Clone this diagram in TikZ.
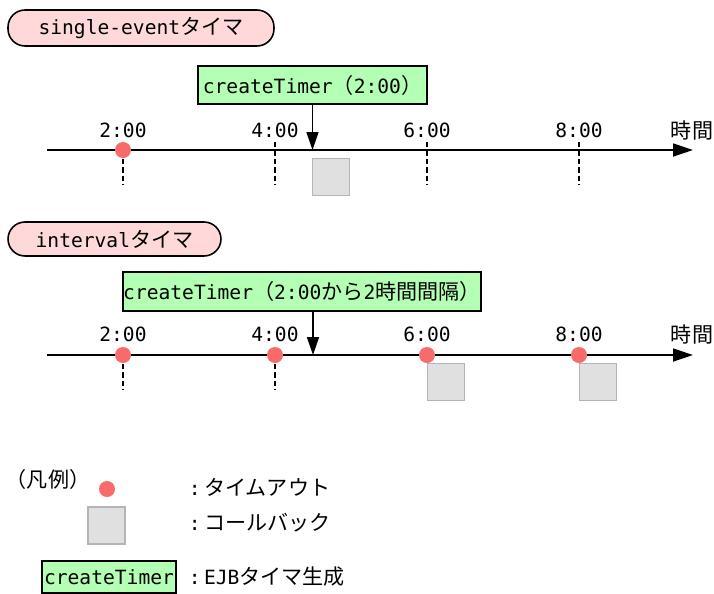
\documentclass[tikz,border=0pt]{standalone}
\usepackage{fontspec}
\setmainfont[Scale=0.93]{DejaVu Sans Mono}
\newfontfamily\jp{Noto Sans CJK JP}
\usetikzlibrary{arrows.meta,positioning}
\definecolor{pillpink}{HTML}{FFD9D9}
\definecolor{timergreen}{HTML}{B3FFB3}
\definecolor{dotred}{HTML}{F76B6B}
\definecolor{cbfill}{HTML}{E0E0E0}
\definecolor{cbdraw}{HTML}{B5B5B5}

\begin{document}
\begin{tikzpicture}[
  x=0.02cm, y=-0.02cm,
  font=\fontsize{12}{14}\selectfont,
  pill/.style={draw, line width=0.9pt, fill=pillpink, rounded corners=0.34cm,
    minimum height=0.72cm, inner sep=0pt},
  create/.style={draw, line width=0.9pt, fill=timergreen, inner sep=0pt},
  timeout/.style={circle, fill=dotred, minimum size=0.32cm, inner sep=0pt},
  callback/.style={draw=cbdraw, line width=1pt, fill=cbfill,
    minimum size=0.74cm, inner sep=0pt},
  tickline/.style={line width=0.9pt, dash pattern=on 3pt off 1.8pt},
  axis/.style={line width=1pt, -{Triangle[length=0.4cm,width=0.26cm]}},
  call/.style={line width=1pt, -{Triangle[length=0.36cm,width=0.24cm]}},
]
  \useasboundingbox (0,0) rectangle (714,593);

  % ---- single-event timer ----
  \node[pill, minimum width=5.32cm] (single) at (141,28) {single-event{\jp タイマ}};
  \node[create, minimum width=4.58cm, minimum height=0.76cm] (ct1) at (312.5,85)
    {createTimer{\jp （}2:00{\jp ）}};

  % Time axis
  \coordinate (a1s) at (47,150);
  \coordinate (a1e) at (693,150);
  \draw[axis] (a1s) -- (a1e);
  \node (hr1) at (692,130) {\jp 時間};
  \foreach \x/\t in {123/2:00, 275/4:00, 427/6:00, 579/8:00} {
    \node (lbl1-\x) at (\x,130) {\t};
    \draw[tickline] (\x,142) -- (\x,185);
  }
  \node[timeout] (to1) at (123,150) {};
  \coordinate (hit1) at (312.5,150);
  \draw[call] (ct1.south) -- (hit1);
  \node[callback] (cb1) at (331,177) {};

  % ---- interval timer ----
  \node[pill, minimum width=4.26cm, minimum height=0.68cm] (interval) at (114.5,239)
    {interval{\jp タイマ}};
  \node[create, minimum width=7.16cm, minimum height=0.78cm] (ct2) at (302,291.5)
    {createTimer{\jp （}2:00{\jp から}2{\jp 時間間隔）}};

  % Time axis
  \coordinate (a2s) at (47,355);
  \coordinate (a2e) at (693,355);
  \draw[axis] (a2s) -- (a2e);
  \node (hr2) at (692,334) {\jp 時間};
  \foreach \x/\t in {123/2:00, 275/4:00, 427/6:00, 579/8:00} {
    \node (lbl2-\x) at (\x,334) {\t};
  }
  \draw[tickline] (123,347) -- (123,390);
  \draw[tickline] (275,347) -- (275,390);
  \foreach \x in {123, 275, 427, 579}
    \node[timeout] (to2-\x) at (\x,355) {};
  \coordinate (hit2) at (313,355);
  \draw[call] (ct2.south -| hit2) -- (hit2);
  \node[callback] (cb2a) at (446,382) {};
  \node[callback] (cb2b) at (598,382) {};

  % ---- legend ----
  \node (legend) at (48,479) {\jp （凡例）};
  \node[timeout] (ltimeout) at (107,489) {};
  \node[anchor=west] (ltimeouttxt) at (183,487) {:\hspace{2pt}{\jp タイムアウト}};
  \node[callback] (lcallback) at (106.5,525.5) {};
  \node[anchor=west] (lcallbacktxt) at (183,523) {:\hspace{2pt}{\jp コールバック}};
  \node[create, minimum width=2.68cm, minimum height=0.64cm] (lcreate) at (109,577)
    {createTimer};
  \node[anchor=west] (lcreatetxt) at (183,577) {:\hspace{2pt}EJB{\jp タイマ生成}};
\end{tikzpicture}
\end{document}
